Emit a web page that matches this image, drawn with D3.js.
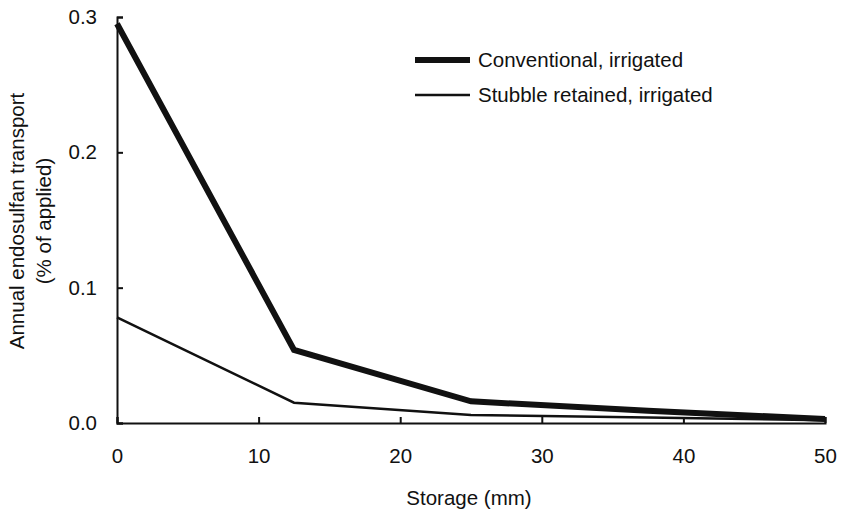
<!DOCTYPE html>
<html>
<head>
<meta charset="utf-8">
<script src="https://cdn.jsdelivr.net/npm/d3@7"></script>
<style>
  body { margin: 0; background: #fff; }
  svg text { font-family: "Liberation Sans", Arial, sans-serif; fill: #111; }
</style>
</head>
<body>
<div id="chart"></div>
<script>
// data
const storage = [0, 12.5, 25, 37.5, 50];
const conventional = [0.295, 0.054, 0.016, 0.009, 0.003];
const stubble = [0.078, 0.015, 0.006, 0.004, 0.002];
const seriesNames = ["Conventional, irrigated", "Stubble retained, irrigated"];
const xTicks = [0, 10, 20, 30, 40, 50];
const yTicks = [0, 0.1, 0.2, 0.3];

const W = 844, H = 511;
const plotLeft = 117, plotRight = 825, plotTop = 17, plotBottom = 423;

const svg = d3.select("#chart").append("svg")
    .attr("width", W)
    .attr("height", H);

const x = d3.scaleLinear().domain([0, 50]).range([plotLeft, plotRight]);
const y = d3.scaleLinear().domain([0, 0.3]).range([plotBottom, plotTop]);

//----------------------------AXES-----------------------------//
const xAxis = svg.append("g")
    .attr("transform", "translate(0," + plotBottom + ")")
    .call(d3.axisBottom(x).tickValues(xTicks).tickSize(-6)
        .tickFormat(d3.format("d")));
const yAxis = svg.append("g")
    .attr("transform", "translate(" + plotLeft + ",0)")
    .call(d3.axisLeft(y).tickValues(yTicks).tickSize(-6).tickPadding(20)
        .tickFormat(d3.format(".1f")));

[xAxis, yAxis].forEach(function(g) {
    g.select(".domain").attr("stroke", "#111").attr("stroke-width", 2);
    g.selectAll(".tick line").attr("stroke", "#111").attr("stroke-width", 2);
    g.selectAll(".tick text").style("font-size", "20.5px").attr("fill", "#111");
});
xAxis.selectAll(".tick text").attr("y", 40).attr("dy", 0);

svg.append("text")
    .attr("x", 469)
    .attr("y", 505)
    .attr("text-anchor", "middle")
    .style("font-size", "20.5px")
    .text("Storage (mm)");

const yl = svg.append("text")
    .attr("transform", "translate(24,221) rotate(-90)")
    .attr("text-anchor", "middle")
    .style("font-size", "20.5px");
yl.append("tspan").attr("x", 0).attr("y", 0).text("Annual endosulfan transport");
yl.append("tspan").attr("x", 0).attr("y", 27).text("(% of applied)");

//----------------------------LINES-----------------------------//
const line = d3.line()
    .x(function(d) { return x(d.s); })
    .y(function(d) { return y(d.v); });

const series = [
    { name: seriesNames[0], width: 6, values: storage.map(function(s, i) { return { s: s, v: conventional[i] }; }) },
    { name: seriesNames[1], width: 2.5, values: storage.map(function(s, i) { return { s: s, v: stubble[i] }; }) }
];

svg.selectAll(".series")
    .data(series)
    .enter()
    .append("path")
    .attr("fill", "none")
    .attr("stroke", "#111")
    .attr("stroke-linejoin", "miter")
    .attr("stroke-width", function(d) { return d.width; })
    .attr("d", function(d) { return line(d.values); });

//----------------------------LEGEND----------------------------//
const legend = svg.selectAll(".legend")
    .data(series)
    .enter()
    .append("g")
    .attr("transform", function(d, i) { return "translate(415," + (60 + i * 35) + ")"; });

legend.append("line")
    .attr("x1", 0).attr("x2", 55)
    .attr("stroke", "#111")
    .attr("stroke-width", function(d) { return d.width; });

legend.append("text")
    .attr("x", 63)
    .attr("y", 7)
    .style("font-size", "20.5px")
    .text(function(d) { return d.name; });
</script>
</body>
</html>
